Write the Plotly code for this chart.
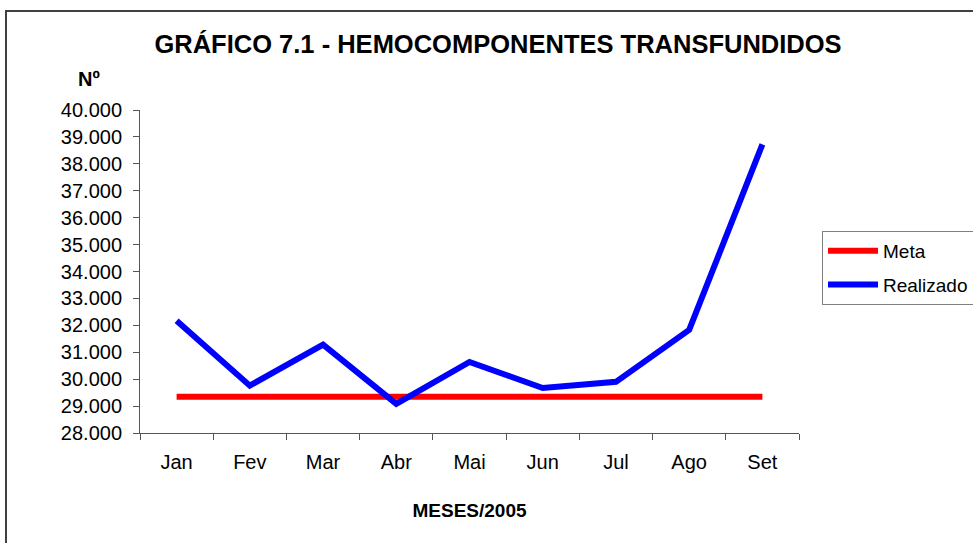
import plotly.graph_objects as go

meses = ["Jan", "Fev", "Mar", "Abr", "Mai", "Jun", "Jul", "Ago", "Set"]
meta = [29350, 29350, 29350, 29350, 29350, 29350, 29350, 29350, 29350]
realizado = [32170, 29760, 31280, 29080, 30640, 29670, 29900, 31830, 38720]

y_ticks = [28000, 29000, 30000, 31000, 32000, 33000, 34000, 35000, 36000, 37000, 38000, 39000, 40000]
y_ticktext = ["28.000", "29.000", "30.000", "31.000", "32.000", "33.000", "34.000",
              "35.000", "36.000", "37.000", "38.000", "39.000", "40.000"]
grid_vals = y_ticks[1:-1]

FONT = "Liberation Sans, Arial, sans-serif"
W, H = 973, 543
L, R, T, B = 140, 174, 110, 110
pw, ph = W - L - R, H - T - B

fig = go.Figure()
fig.add_trace(go.Scatter(x=meses, y=meta, name="Meta", mode="lines",
                         line=dict(color="#FF0000", width=6), legendgroup="a"))
fig.add_trace(go.Scatter(x=meses, y=realizado, name="Realizado", mode="lines",
                         line=dict(color="#0000FF", width=6), legendgroup="b"))

fig.update_layout(
    width=W, height=H,
    margin=dict(l=L, r=R, t=T, b=B, autoexpand=False),
    paper_bgcolor="white", plot_bgcolor="white",
    font=dict(family=FONT, size=20, color="black"),
    title=dict(text="<b>GRÁFICO 7.1 - HEMOCOMPONENTES TRANSFUNDIDOS</b>",
               x=498 / W, xanchor="center", y=1 - 44 / H, yanchor="middle",
               font=dict(family=FONT, size=25.5, color="black")),
    xaxis=dict(type="category", range=[-0.5, 8.5], tickson="boundaries",
               ticks="outside", ticklen=6, tickcolor="#555", showline=True,
               linecolor="#555", linewidth=1, showgrid=False, zeroline=False,
               tickfont=dict(size=20), ticklabelstandoff=11,
               title=dict(text="<b>MESES/2005</b>", font=dict(size=19), standoff=31)),
    yaxis=dict(range=[28000, 40000], tickvals=y_ticks, ticktext=y_ticktext,
               ticks="outside", ticklen=6, tickcolor="#555", showline=True,
               linecolor="#555", linewidth=1, showgrid=False, zeroline=False,
               tickfont=dict(size=20), ticklabelstandoff=7),
    yaxis2=dict(range=[28000, 40000], overlaying="y", tickvals=grid_vals,
                showgrid=True, gridcolor="#2a2a2a", gridwidth=1,
                showticklabels=False, ticks="", showline=False, zeroline=False),
    legend=dict(x=(822 - L) / pw, xanchor="left", y=1 - (231 - T) / ph, yanchor="top",
                bgcolor="white", bordercolor="#808080", borderwidth=1,
                font=dict(size=19), tracegroupgap=6, itemwidth=50),
    showlegend=True,
)

fig.add_annotation(text="<b>Nº</b>", xref="paper", yref="paper",
                   x=(76 - L) / pw, xanchor="left", y=1 + (T - 79) / ph, yanchor="middle",
                   showarrow=False, font=dict(size=20, family=FONT, color="black"))

fig.add_shape(type="rect", xref="paper", yref="paper",
              x0=(6 - L) / pw, x1=(W + 20 - L) / pw,
              y0=-(B + 20) / ph, y1=1 + (T - 11) / ph,
              line=dict(color="#404040", width=2), layer="below")

fig.write_html("out.html", config={"displayModeBar": False},
               post_script="document.body.style.margin='0';document.body.style.padding='0';")
